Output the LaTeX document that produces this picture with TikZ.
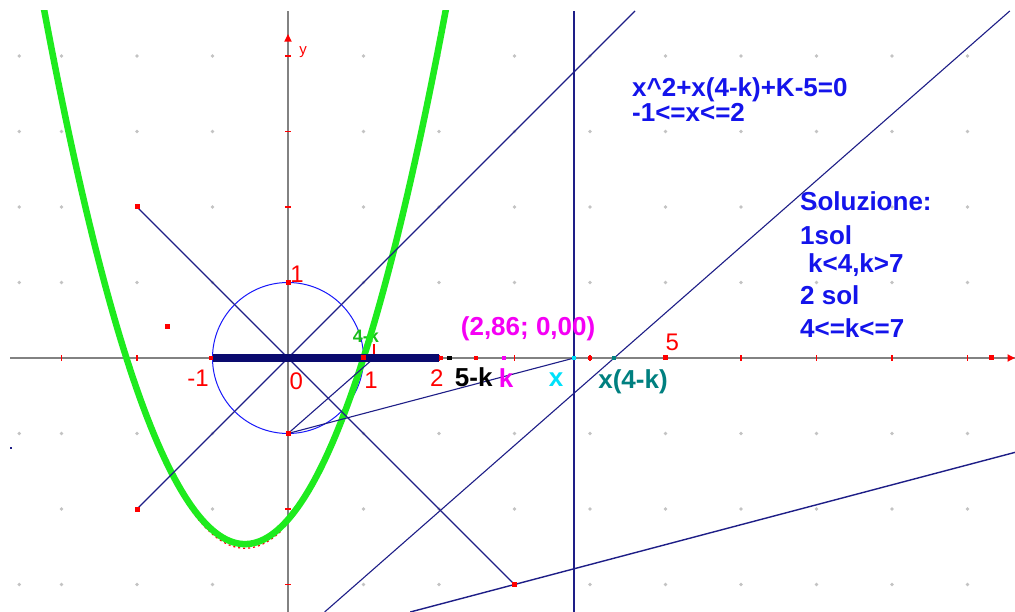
\documentclass[tikz,border=0pt]{standalone}
\usepackage{fontspec}
\setmainfont{Liberation Sans}
\definecolor{navy}{RGB}{30,30,135}
\definecolor{barnavy}{RGB}{10,10,110}
\definecolor{axisgray}{RGB}{130,130,130}
\definecolor{txtblue}{RGB}{20,20,235}
\definecolor{gridgray}{RGB}{195,195,195}
\definecolor{pargreen}{RGB}{30,235,30}
\definecolor{magtxt}{RGB}{245,0,245}
\definecolor{cyantxt}{RGB}{0,225,250}
\definecolor{tealtxt}{RGB}{0,128,128}
\definecolor{circblue}{RGB}{25,25,250}
\begin{document}
\begin{tikzpicture}[x=75.5pt,y=75.5pt,
  thinline/.style={draw=navy,line width=1.1pt},
  pt/.style={rectangle,inner sep=0pt,minimum size=5pt},
  redpt/.style={pt,fill=red},
  redlab/.style={text=red,inner sep=0pt,font=\fontsize{24}{24}\selectfont},
  boldlab/.style={inner sep=0pt,font=\bfseries\fontsize{26}{26}\selectfont},
  bluetxt/.style={text=txtblue,inner sep=0pt,anchor=base west,font=\bfseries\fontsize{26}{26}\selectfont}]
\useasboundingbox[fill=white] (-3.8146,-3.3642) rectangle (9.6291,4.7417);
\begin{scope}
\clip (-3.682,-3.3642) rectangle (9.6291,4.596);
% grid dots
\foreach \i in {-3,...,9}{
  \foreach \j in {-3,...,4}{
    \ifnum\i=0\relax\else\ifnum\j=0\relax\else
      \fill[gridgray] (\i,\j) ++(-1.8pt,0) -- ++(1.8pt,1.8pt) -- ++(1.8pt,-1.8pt) -- ++(-1.8pt,-1.8pt) -- cycle;
    \fi\fi
  }
}
\foreach \j in {-3,-1,1,2,3,4}{
  \fill[gridgray] (-3.56,\j) ++(-1.8pt,0) -- ++(1.8pt,1.8pt) -- ++(1.8pt,-1.8pt) -- ++(-1.8pt,-1.8pt) -- cycle;
}
% coordinates
\coordinate (O) at (0,0);
\coordinate (xl) at (-3.682,0);
\coordinate (xr) at (9.6291,0);
\coordinate (yb) at (0,-3.3642);
\coordinate (yt) at (0,4.596);
\coordinate (A) at (-2,2);
\coordinate (B) at (3,-3);
\coordinate (C) at (-2,-2);
\coordinate (Ctop) at (4.596,4.596);
\coordinate (X) at (3.79,0);
\coordinate (Xtop) at (3.79,4.596);
\coordinate (Xbot) at (3.79,-3.3642);
\coordinate (D) at (0,-1);
\coordinate (Q) at (1.14,0);
\coordinate (Qup) at (1.14,0.19);
\coordinate (XK) at (4.32,0);
\coordinate (La) at (0.485,-3.3642);
\coordinate (Lb) at (9.56,4.596);
\coordinate (Ma) at (1.62,-3.3642);
\coordinate (Mb) at (9.6291,-1.25);
\coordinate (Sl) at (-1,0);
\coordinate (Sr) at (2,0);
% axes
\draw[axisgray,line width=1.6pt] (xl) -- (xr);
\draw[axisgray,line width=1.6pt] (yb) -- (yt);
\foreach \i in {-3,-2,-1,1,2,3,4,6,7,8,9}{\draw[red,line width=1.2pt] (\i,-3pt) -- (\i,3pt);}
\foreach \j in {-3,-2,-1,1,2,3,4}{\draw[red,line width=1.2pt] (-3pt,\j) -- (3pt,\j);}
\fill[red] (9.625,0) -- (9.53,0.05) -- (9.53,-0.05) -- cycle;
\fill[red] (0,4.29) -- (0.05,4.19) -- (-0.05,4.19) -- cycle;
\node[text=red,inner sep=0pt,font=\fontsize{15}{15}\selectfont] (ylab) at (0.2,4.05) {y};
% unit circle
\draw[circblue,line width=1pt] (O) circle (1);
% label under parabola
\node[text=pargreen!80!black,inner sep=0pt,font=\bfseries\fontsize{18}{18}\selectfont] (lab4k) at (1.03,0.29) {4-k};
\draw[red,line width=1.6pt] (Q) -- (Qup);
% red trace and parabola
\draw[red,line width=1.2pt,dash pattern=on 2pt off 3pt,domain=-1.6:-0.1,samples=60] plot (\x,{\x*\x+1.14*\x-2.14-0.055});
\draw[pargreen,line width=6.5pt,domain=-3.27:2.13,samples=120] plot (\x,{\x*\x+1.14*\x-2.14});
% construction lines
\draw[thinline] (A) -- (B);
\draw[thinline] (C) -- (Ctop);
\draw[thinline,line width=1.4pt] (Xbot) -- (Xtop);
\draw[thinline] (D) -- (X);
\draw[thinline] (D) -- (Q);
\draw[thinline] (La) -- (XK) -- (Lb);
\draw[thinline,line width=1.4pt] (Ma) -- (B) -- (Mb);
% thick segment
\draw[barnavy,line width=7.5pt] (Sl) -- (Sr);
\end{scope}
% points
\node[redpt] (p01) at (0,1) {};
\node[redpt] (p10) at (1,0) {};
\node[redpt] (p0m1) at (D) {};
\node[redpt] (pA) at (A) {};
\node[redpt] (pB) at (B) {};
\node[redpt] (pC) at (C) {};
\node[redpt,minimum size=4pt] (pSl) at (-1.02,0) {};
\node[redpt,minimum size=4pt] (pSr) at (2.02,0) {};
\node[pt,fill=black,minimum size=4.5pt] (p5k) at (2.14,0) {};
\node[redpt,minimum size=4.5pt] (pr1) at (2.49,0) {};
\node[pt,fill=magtxt,minimum size=4.5pt] (pk) at (2.86,0) {};
\node[pt,fill=cyantxt,minimum size=4.5pt] (px) at (X) {};
\node[redpt,minimum size=4.5pt] (pr2) at (4.0,0) {};
\node[pt,fill=tealtxt,minimum size=4.5pt] (pxk) at (XK) {};
\node[redpt] (p5) at (5,0) {};
\node[redpt] (pr3) at (9.32,0) {};
\node[redpt] (pfree) at (-1.59,0.42) {};
\node[pt,fill=navy,minimum size=2.5pt] (pedge) at (-3.67,-1.19) {};
% axis labels
\node[redlab] (l1y) at (0.12,1.11) {1};
\node[redlab] (lm1) at (-1.19,-0.27) {-1};
\node[redlab] (l0) at (0.11,-0.31) {0};
\node[redlab] (l1x) at (1.10,-0.29) {1};
\node[redlab] (l2x) at (1.97,-0.27) {2};
\node[redlab] (l5x) at (5.09,0.21) {5};
% point labels
\node[boldlab,text=magtxt] (lcoord) at (3.18,0.39) {(2,86; 0,00)};
\node[boldlab,text=black] (l5k) at (2.46,-0.26) {5-k};
\node[boldlab,text=magtxt] (lk) at (2.89,-0.26) {k};
\node[boldlab,text=cyantxt] (lx) at (3.55,-0.28) {x};
\node[boldlab,text=tealtxt] (lxk) at (4.57,-0.31) {x(4-k)};
% text blocks
\node[bluetxt] (eq1) at (4.556,3.47) {x\textasciicircum2+x(4-k)+K-5=0};
\node[bluetxt] (eq2) at (4.556,3.126) {-1<=x<=2};
\node[bluetxt] (s1) at (6.781,1.96) {Soluzione:};
\node[bluetxt] (s2) at (6.781,1.497) {1sol};
\node[bluetxt] (s3) at (6.887,1.126) {k<4,k>7};
\node[bluetxt] (s4) at (6.781,0.702) {2 sol};
\node[bluetxt] (s5) at (6.781,0.278) {4<=k<=7};
\end{tikzpicture}
\end{document}
